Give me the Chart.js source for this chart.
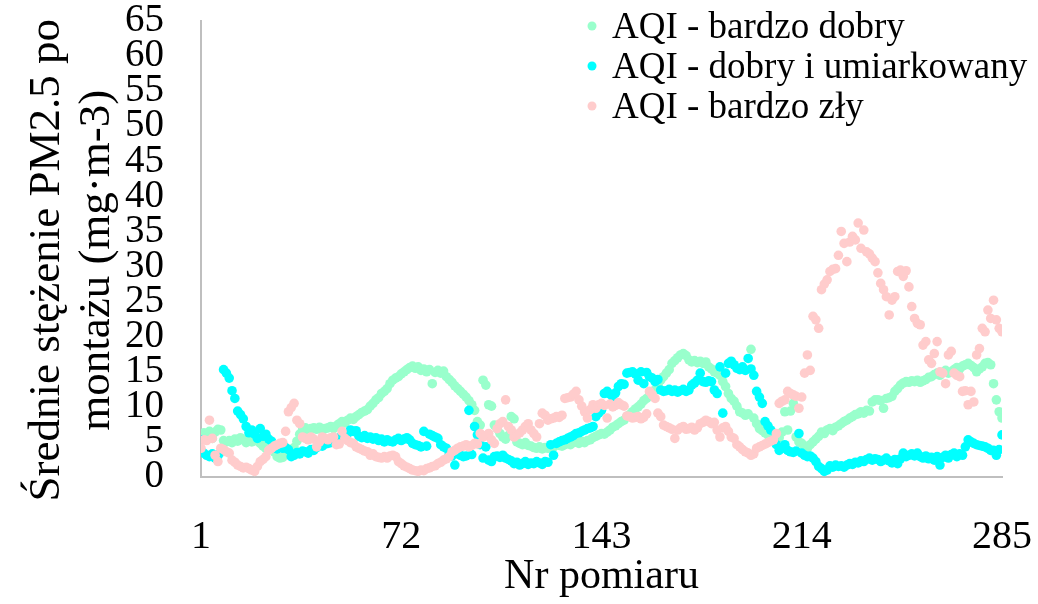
<!DOCTYPE html>
<html>
<head>
<meta charset="utf-8">
<script src="https://cdn.jsdelivr.net/npm/chart.js@4"></script>
<style>
  body { margin: 0; background: #fff; }
</style>
</head>
<body>
<canvas id="pmChart" width="1038" height="604"></canvas>
<script>
// tick values on the measurement axis
const xTicks = [1, 72, 143, 214, 285];

// mean PM2.5 per measurement, one value per measurement number 1..285
const bardzoDobry = [
  5.3, 6.3, 6.0, 6.5, 5.5, 6.4, 6.8, 6.7, 5.2, 5.0,
  5.2, 4.9, 5.4, 5.1, 5.6, 5.3, 4.9, 5.5, 5.0, 5.4,
  5.1, 4.8, 4.4, 4.1, 4.3, 4.0, 3.6, 2.9, 2.7, 2.8,
  3.5, 3.9, 3.7, 4.2, 5.1, 6.1, 6.7, 7.0, 6.6, 6.9,
  7.0, 6.8, 7.1, 6.7, 6.9, 7.0, 7.2, 6.9, 7.3, 7.6,
  7.9, 7.7, 8.1, 8.4, 8.2, 8.6, 8.9, 9.2, 9.4, 9.6,
  10.1, 10.5, 11.0, 11.3, 11.9, 12.2, 12.6, 13.3, 13.8, 14.1,
  14.3, 14.7, 15.0, 15.3, 15.6, 15.8, 15.5, 15.7, 15.2, 15.4,
  15.0, 15.3, 13.3, 14.9, 15.2, 14.8, 15.1, 14.3, 13.9, 13.5,
  13.0, 12.6, 12.2, 11.8, 11.4, 10.9, 10.3, 9.5, 7.9, 7.4,
  13.8, 13.1, 10.3, 10.1, 7.4, 6.9, 6.2, 5.7, 5.4, 5.9,
  8.6, 8.3, 5.0, 4.8, 4.6, 4.9, 4.5, 4.4, 4.2, 4.1,
  4.3, 4.0, 4.2, 4.1, 4.4, 4.3, 4.6, 4.5, 4.4, 4.6,
  4.8, 4.6, 4.9, 5.0, 4.8, 5.1, 4.9, 5.2, 5.3, 5.6,
  5.8, 6.0, 6.2, 6.1, 6.4, 6.7, 7.1, 7.3, 7.6, 7.9,
  8.1, 8.6, 8.9, 9.3, 9.7, 10.0, 10.4, 10.9, 11.2, 11.6,
  12.0, 12.4, 13.2, 13.8, 14.3, 14.8, 15.3, 16.2, 16.6, 17.0,
  17.4, 17.6, 17.3, 16.7, 16.4, 16.6, 16.3, 16.5, 16.2, 16.4,
  15.7, 15.4, 15.0, 14.8, 14.5, 13.6, 12.9, 11.9, 11.2, 10.8,
  10.1, 9.3, 9.1, 8.8, 9.0, 18.2, 8.4, 7.6, 6.9, 6.6,
  6.3, 6.0, 5.8, 5.5, 5.3, 5.6, 6.4, 9.3, 6.7, 9.4,
  10.5, 5.7, 5.0, 4.8, 4.3, 4.1, 4.6, 5.0, 5.4, 5.8,
  6.4, 6.2, 6.7, 6.9, 6.6, 7.1, 7.3, 7.6, 7.9, 8.1,
  8.4, 8.6, 8.9, 9.0, 9.3, 9.1, 9.5, 9.4, 10.7, 11.0,
  11.0, 10.9, 9.8, 11.2, 11.3, 11.5, 12.2, 12.6, 13.1, 13.4,
  13.6, 13.5, 13.7, 13.6, 13.8, 13.5, 13.7, 13.9, 14.2, 14.3,
  14.6, 14.8, 14.5, 14.9, 15.2, 14.8, 15.0, 15.3, 15.6, 15.4,
  15.8, 16.0, 16.2, 15.9, 15.6, 15.0, 15.4, 15.7, 16.2, 16.3,
  16.0, 13.3, 11.0, 9.3, 8.4
];

const dobryUmiarkowany = [
  5.3, 3.4, 3.1, 2.9, 3.3, 2.7, 3.0, 3.5, 15.3, 14.8,
  14.1, 12.3, 11.2, 9.4, 8.9, 8.3, 7.2, 6.3, 6.7, 6.1,
  5.5, 6.9, 5.8, 6.1, 5.4, 5.1, 4.4, 4.0, 4.3, 4.1,
  4.2, 3.9, 2.9, 3.1, 3.5, 3.3, 3.7, 3.6, 3.4, 3.9,
  3.8, 4.2, 4.6, 4.4, 4.7, 4.8, 4.9, 5.1, 5.3, 5.6,
  5.9, 6.1, 6.2, 6.7, 6.5, 6.6, 5.8, 5.6, 5.9, 5.5,
  5.7, 5.4, 5.6, 5.2, 5.4, 5.0, 5.3, 5.1, 5.0, 5.3,
  5.5, 5.2, 5.4, 5.6, 5.3, 4.8, 4.6, 4.5, 4.3, 6.5,
  4.4, 6.1, 5.9, 5.7, 5.5, 4.6, 4.3, 4.1, 3.2, 3.0,
  1.7, 3.3, 3.1, 2.9, 3.0, 9.5, 3.2, 7.2, 6.0, 4.6,
  2.7, 4.3, 2.4, 2.2, 2.9, 3.0, 2.8, 3.1, 2.7, 2.5,
  2.3, 1.9, 2.1, 1.7, 1.9, 2.2, 1.8, 2.0, 1.9, 2.2,
  2.0, 1.8, 2.2, 2.1, 4.6, 3.1, 4.8, 5.0, 5.2, 5.3,
  5.5, 5.7, 5.9, 6.2, 6.3, 6.5, 6.7, 6.9, 7.0, 7.2,
  8.6, 9.1, 9.5, 11.9, 12.2, 11.8, 11.4, 12.0, 12.9, 13.3,
  13.2, 14.8, 14.9, 15.0, 14.7, 13.8, 15.0, 13.3, 14.9, 14.3,
  14.1, 13.6, 13.9, 12.4, 12.2, 12.3, 12.5, 12.2, 12.4, 12.1,
  12.3, 12.5, 12.2, 12.4, 13.1, 13.4, 13.8, 14.8, 13.6, 13.5,
  13.7, 13.6, 12.4, 11.9, 15.7, 9.1, 14.8, 16.2, 16.5, 16.0,
  15.5, 15.3, 15.7, 15.2, 16.9, 15.4, 14.5, 12.2, 11.4, 10.5,
  7.9, 7.3, 6.7, 5.3, 4.6, 3.8, 4.1, 4.6, 3.8, 3.6,
  3.5, 3.7, 6.2, 3.4, 3.1, 2.9, 3.0, 2.7, 2.2, 1.5,
  1.2, 0.8, 1.0, 1.6, 1.4, 1.7, 1.5, 1.6, 1.4, 1.7,
  1.9, 1.8, 2.1, 2.0, 2.3, 2.2, 2.5, 2.7, 2.4, 2.6,
  2.5, 2.2, 2.4, 2.7, 2.3, 2.0, 2.5, 1.9, 2.6, 3.4,
  2.9, 3.1, 3.3, 3.0, 3.4, 2.9, 2.7, 3.0, 2.6, 2.8,
  2.4, 2.9, 1.7, 2.8, 3.1, 2.7, 3.2, 3.4, 2.9, 3.3,
  3.1, 4.3, 5.3, 5.0, 4.8, 4.6, 4.5, 4.4, 4.3, 4.1,
  3.8, 3.8, 3.1, 3.9, 6.0
];

const bardzoZly = [
  4.1, 5.3, 5.2, 8.1, 5.5, 3.1, 2.2, 4.1, 3.9, 3.6,
  3.4, 2.4, 2.1, 1.7, 1.5, 1.3, 1.4, 1.2, 1.0, 0.8,
  1.5, 2.2, 2.5, 2.9, 3.8, 4.1, 4.4, 4.6, 4.8, 4.9,
  6.5, 9.3, 9.9, 10.5, 8.1, 7.6, 5.7, 5.5, 5.3, 5.7,
  5.4, 4.3, 5.0, 5.7, 5.5, 5.3, 5.6, 5.7, 4.6, 4.7,
  6.5, 5.5, 5.2, 4.9, 4.8, 4.3, 4.1, 3.9, 3.7, 3.6,
  3.1, 3.3, 2.9, 2.8, 2.7, 2.9, 2.7, 3.0, 3.1, 2.9,
  2.2, 1.9, 1.6, 1.4, 1.2, 1.0, 0.9, 0.8, 1.0, 0.9,
  1.2, 1.3, 1.5, 1.6, 1.9, 2.1, 2.4, 2.6, 2.9, 3.6,
  3.8, 4.1, 4.3, 4.4, 4.6, 4.3, 4.5, 4.8, 4.7, 6.2,
  5.7, 5.9, 6.2, 5.3, 4.8, 6.9, 7.6, 7.9, 11.0, 7.2,
  6.7, 5.7, 6.0, 6.3, 6.7, 7.2, 7.6, 6.7, 6.2, 5.7,
  7.6, 9.1, 8.8, 8.1, 8.3, 8.4, 8.6, 8.5, 8.8, 11.2,
  11.3, 11.4, 11.8, 12.2, 11.0, 10.1, 9.3, 8.4, 9.6, 10.3,
  9.8, 10.3, 10.5, 10.2, 8.4, 10.4, 10.0, 10.2, 10.6, 10.3,
  10.1, 8.7, 8.6, 8.4, 8.5, 8.6, 8.3, 8.5, 9.0, 12.2,
  11.7, 11.2, 9.1, 8.6, 7.4, 7.2, 7.0, 6.8, 5.5, 6.7,
  7.0, 7.2, 6.8, 6.9, 7.1, 6.7, 7.0, 7.6, 7.8, 8.1,
  7.9, 7.6, 7.8, 6.7, 5.7, 7.0, 7.2, 6.5, 5.7, 5.5,
  4.6, 4.3, 3.9, 3.6, 3.4, 3.1, 3.3, 4.1, 4.3, 4.5,
  4.7, 4.9, 5.1, 5.3, 6.2, 10.5, 10.8, 11.0, 12.2, 11.9,
  11.7, 11.5, 9.8, 11.4, 14.8, 17.4, 15.2, 22.9, 22.4, 21.2,
  26.7, 27.5, 28.1, 29.3, 29.6, 29.7, 31.6, 35.0, 33.3, 30.7,
  33.5, 34.3, 33.8, 36.2, 32.6, 35.2, 32.1, 31.8, 31.2, 30.7,
  29.1, 27.6, 26.7, 25.7, 23.1, 25.2, 25.7, 29.3, 29.5, 28.6,
  29.4, 27.1, 24.3, 22.6, 21.9, 21.7, 18.8, 19.3, 16.7, 16.2,
  17.6, 19.3, 15.0, 14.8, 13.3, 17.4, 17.9, 14.8, 14.5, 14.3,
  12.2, 12.3, 10.3, 12.2, 10.7, 17.4, 18.3, 21.2, 20.7, 23.8,
  22.6, 25.2, 22.4, 21.2, 20.7
];

const serif = '"Liberation Serif", "Times New Roman", serif';
const toPoints = (values) => values.map((v, k) => ({ x: k + 1, y: v }));

// legend in the upper right: small dot + series name
const seriesLegend = {
  id: 'seriesLegend',
  afterDraw(chart) {
    const ctx = chart.ctx;
    ctx.save();
    ctx.font = '37px ' + serif;
    ctx.textBaseline = 'alphabetic';
    chart.data.datasets.forEach((ds, k) => {
      const base = 38 + k * 40;
      ctx.beginPath();
      ctx.arc(592, base - 12, 4.5, 0, Math.PI * 2);
      ctx.fillStyle = ds.backgroundColor;
      ctx.fill();
      ctx.fillStyle = '#000';
      ctx.fillText(ds.label, 612, base);
    });
    ctx.restore();
  }
};

const pmChart = new Chart(document.getElementById('pmChart'), {
  type: 'scatter',
  data: {
    datasets: [{
      label: 'AQI - bardzo dobry',
      data: toPoints(bardzoDobry),
      backgroundColor: 'rgb(153, 255, 204)',
      order: 3
    }, {
      label: 'AQI - dobry i umiarkowany',
      data: toPoints(dobryUmiarkowany),
      backgroundColor: 'rgb(0, 255, 255)',
      order: 2
    }, {
      label: 'AQI - bardzo zły',
      data: toPoints(bardzoZly),
      backgroundColor: 'rgb(255, 204, 204)',
      order: 1
    }]
  },
  options: {
    responsive: false,
    animation: false,
    events: [],
    layout: { padding: { top: 21, right: 36, bottom: 0, left: 0 } },
    elements: {
      point: { radius: 4.8, borderWidth: 0, hoverRadius: 4.8 }
    },
    plugins: {
      legend: { display: false },
      tooltip: { enabled: false }
    },
    scales: {
      x: {
        type: 'linear',
        min: 1,
        max: 285,
        afterBuildTicks(scale) {
          scale.ticks = xTicks.map(v => ({ value: v }));
        },
        afterFit(scale) { scale.height = 127; },
        ticks: {
          autoSkip: false,
          maxRotation: 0,
          padding: 0,
          color: '#000',
          font: { family: serif, size: 40, lineHeight: 1 }
        },
        // tick marks are hidden; tickLength only spaces the labels off the axis
        grid: { display: false, drawTicks: true, tickLength: 40 },
        border: { color: '#bfbfbf', width: 2 },
        title: {
          display: true,
          text: 'Nr pomiaru',
          color: '#000',
          font: { family: serif, size: 42, lineHeight: 1 },
          padding: { top: 0, bottom: 6 }
        }
      },
      y: {
        min: 0,
        max: 65,
        afterFit(scale) { scale.width = 201; },
        ticks: {
          stepSize: 5,
          autoSkip: false,
          padding: 0,
          color: '#000',
          font: { family: serif, size: 39, lineHeight: 1 }
        },
        grid: { display: false, drawTicks: true, tickLength: 37 },
        border: { color: '#bfbfbf', width: 2 },
        title: {
          display: true,
          text: ['Średnie stężenie PM2.5 po  ', 'montażu (mg·m-3)  '],
          color: '#000',
          font: { family: serif, size: 45, lineHeight: 1.12 },
          padding: { top: 22, bottom: 0 }
        }
      }
    }
  },
  plugins: [seriesLegend]
});
</script>
</body>
</html>
